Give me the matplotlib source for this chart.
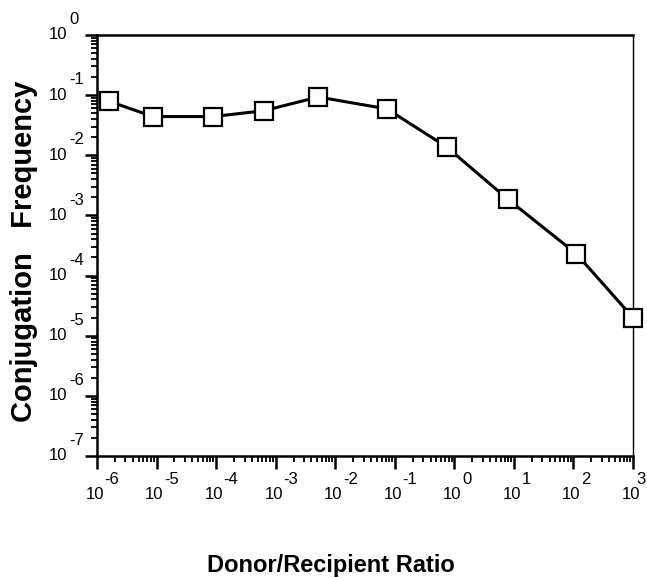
import matplotlib
matplotlib.use("Agg")
import matplotlib.pyplot as plt
import numpy as np
from matplotlib.ticker import LogLocator, NullFormatter

# donor/recipient ratio and conjugation frequency
ratio = [1.6e-6, 8.7e-6, 9.0e-5, 6.3e-4, 5.2e-3, 7.4e-2, 0.74, 7.9, 112, 1000]
frequency = [0.079, 0.044, 0.044, 0.055, 0.093, 0.059, 0.0138, 0.00186, 2.3e-4, 2.0e-5]
x_exponents = [-6, -5, -4, -3, -2, -1, 0, 1, 2, 3]
y_exponents = [0, -1, -2, -3, -4, -5, -6, -7]

plt.rcParams['font.family'] = ['Liberation Sans', 'DejaVu Sans']

fig = plt.figure(figsize=(6.47, 5.78), dpi=100)
ax = fig.add_axes([0.1499, 0.2111, 0.8284, 0.7284])

ax.plot(ratio, frequency, color='black', linewidth=2.2, marker='s',
        markersize=12.5, markerfacecolor='white', markeredgecolor='black',
        markeredgewidth=1.6, clip_on=False, zorder=5)

ax.set_xscale('log')
ax.set_yscale('log')
ax.set_xlim(1e-6, 1e3)
ax.set_ylim(1e-7, 1e0)

ax.xaxis.set_major_locator(LogLocator(base=10, numticks=20))
ax.yaxis.set_major_locator(LogLocator(base=10, numticks=20))
ax.xaxis.set_minor_locator(LogLocator(base=10, subs=np.arange(2, 10), numticks=20))
ax.yaxis.set_minor_locator(LogLocator(base=10, subs=np.arange(2, 10), numticks=20))
ax.xaxis.set_major_formatter(NullFormatter())
ax.yaxis.set_major_formatter(NullFormatter())
ax.xaxis.set_minor_formatter(NullFormatter())
ax.yaxis.set_minor_formatter(NullFormatter())

ax.tick_params(which='major', direction='out', length=9, width=1.8, color='black')
ax.tick_params(which='minor', direction='out', length=4.5, width=1.3, color='black')
ax.tick_params(top=False, right=False)

for side in ['left', 'bottom', 'top']:
    ax.spines[side].set_linewidth(1.8)
ax.spines['right'].set_linewidth(1.0)

# tick labels written as "10" with a raised exponent, like the original
xt = ax.get_xaxis_transform()
for e in x_exponents:
    ax.annotate('10', xy=(10.0 ** e, 0), xycoords=xt, xytext=(-1.5, -28),
                textcoords='offset points', ha='center', va='center', fontsize=12)
    # the last one sits at the figure edge, pull it in a little
    dx = 5.5 if e != x_exponents[-1] else 2.5
    ax.annotate(str(e), xy=(10.0 ** e, 0), xycoords=xt, xytext=(dx, -17),
                textcoords='offset points', ha='left', va='center', fontsize=12)

yt = ax.get_yaxis_transform()
for e in y_exponents:
    ax.annotate('10', xy=(0, 10.0 ** e), xycoords=yt, xytext=(-21.5, 0),
                textcoords='offset points', ha='right', va='center', fontsize=12)
    ax.annotate(str(e), xy=(0, 10.0 ** e), xycoords=yt, xytext=(-20, 11),
                textcoords='offset points', ha='left', va='center', fontsize=12)

fig.text(0.037, 0.566, 'Conjugation   Frequency', rotation=90, ha='center',
         va='center', fontsize=21, fontweight='bold')
fig.text(0.511, 0.0104, 'Donor/Recipient Ratio', ha='center', va='baseline',
         fontsize=17, fontweight='bold')

fig.savefig('out.png', dpi=100)
